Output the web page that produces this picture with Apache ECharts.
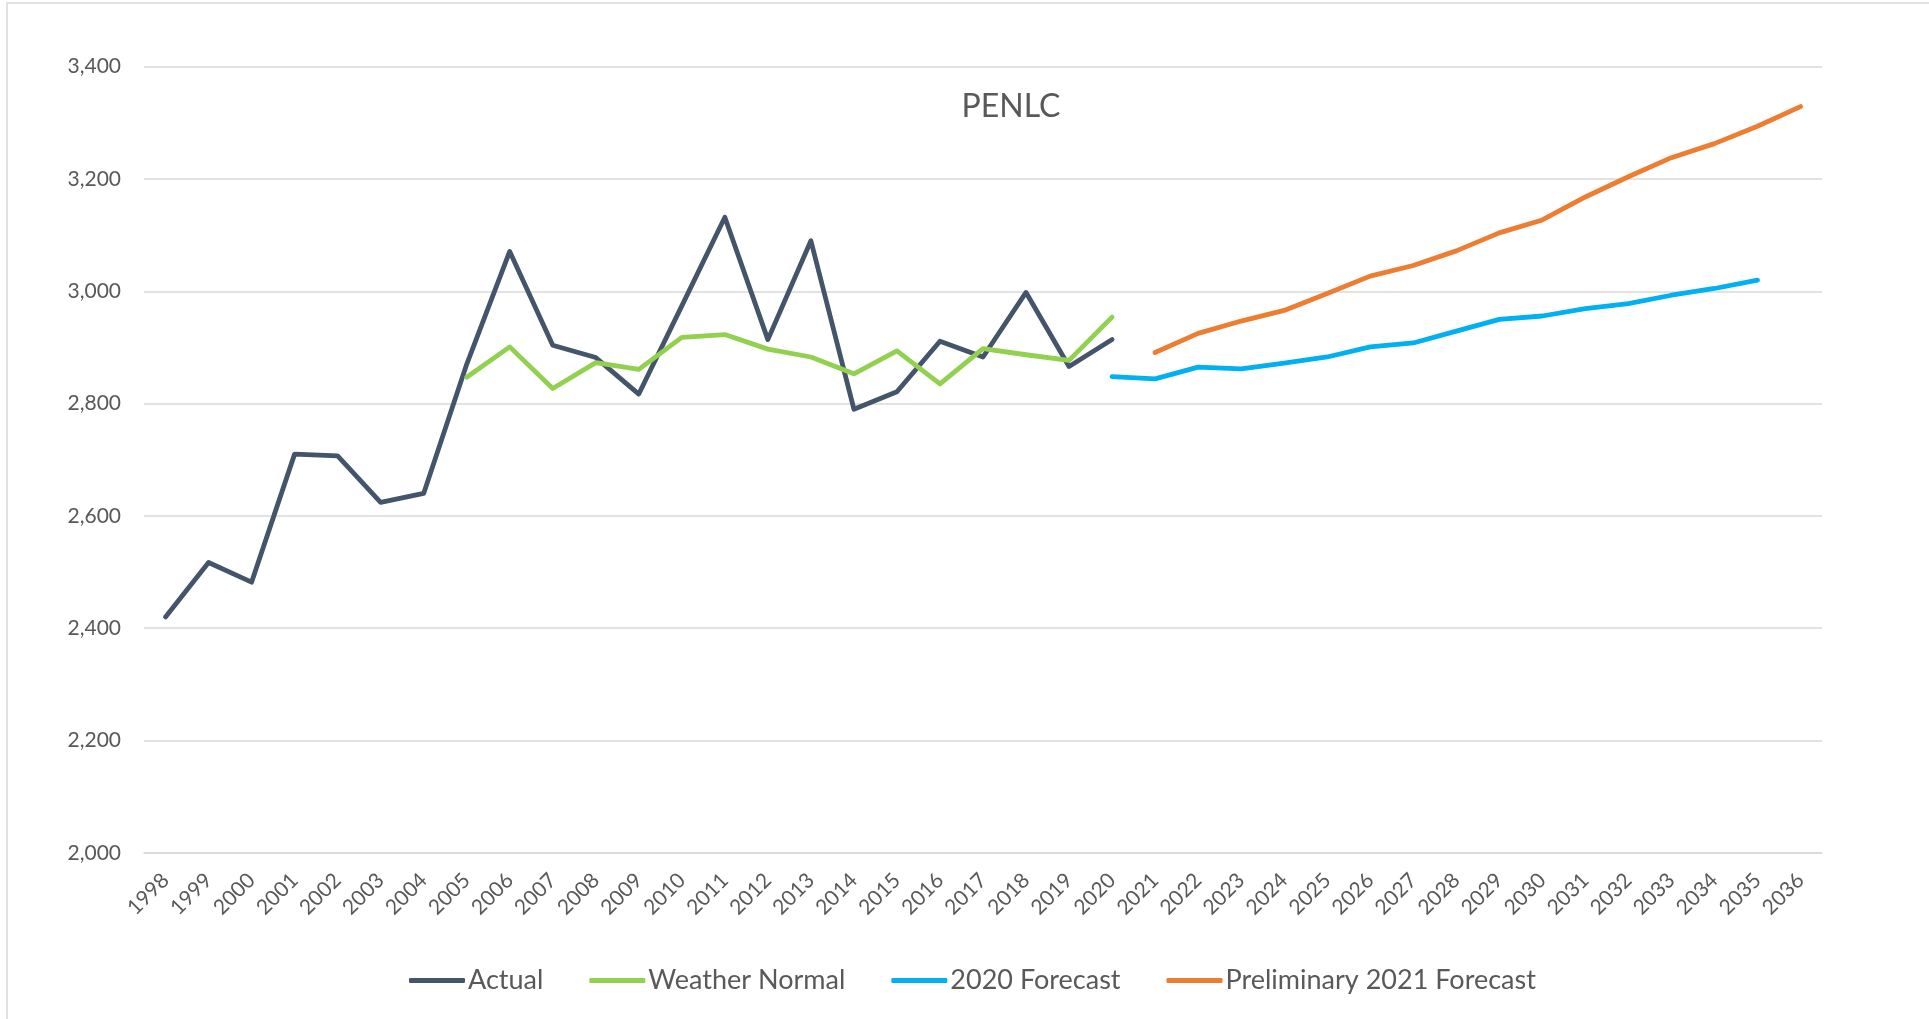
<!DOCTYPE html>
<html>
<head>
<meta charset="utf-8">
<script src="https://cdn.jsdelivr.net/npm/echarts@6/dist/echarts.min.js"></script>
<style>
html,body{margin:0;padding:0;background:#fff;}
#chart{width:1929px;height:1019px;}
</style>
</head>
<body>
<div id="chart"></div>
<script>
const years = ['1998','1999','2000','2001','2002','2003','2004','2005','2006','2007','2008','2009','2010','2011','2012','2013','2014','2015','2016','2017','2018','2019','2020','2021','2022','2023','2024','2025','2026','2027','2028','2029','2030','2031','2032','2033','2034','2035','2036'];

// 1998-2020
const actual = [2420,2517,2482,2710,2707,2624,2640,2870,3071,2904,2882,2817,2974,3132,2914,3090,2790,2821,2911,2883,2998,2866,2914];
// 2005-2020
const weatherNormal = [2847,2901,2827,2873,2861,2918,2923,2897,2883,2853,2894,2835,2898,2887,2877,2954];
// 2020-2035
const forecast2020 = [2848,2844,2865,2862,2872,2883,2901,2908,2929,2950,2956,2969,2978,2993,3005,3020];
// 2021-2036
const prelim2021 = [2891,2925,2947,2966,2996,3027,3046,3072,3104,3127,3168,3204,3238,3263,3294,3329];

const yTicks = [2000,2200,2400,2600,2800,3000,3200,3400];

function place(startYear, values){
  const out = years.map(() => null);
  const s = years.indexOf(startYear);
  values.forEach((v,i) => { out[s+i] = v; });
  return out;
}

const FONT = 'Lato';
const TXT = '#595959';

const chart = echarts.init(document.getElementById('chart'), null, {renderer:'canvas'});
const lineStyle = (c) => ({color:c, width:4.8, cap:'round', join:'round'});

chart.setOption({
  animation:false,
  backgroundColor:'#ffffff',
  title:{
    text:'PENLC',
    left:1006, top:86,
    textAlign:'center',
    textStyle:{fontFamily:FONT, fontSize:32, fontWeight:'normal', color:TXT}
  },
  graphic:[{
    type:'rect', silent:true,
    shape:{x:7, y:3, width:1940, height:1040},
    style:{fill:'none', stroke:'#D9D9D9', lineWidth:1.5}
  }],
  legend:{
    left:404, top:962,
    itemWidth:56, itemHeight:5, itemGap:46,
    icon:'roundRect',
    textStyle:{fontFamily:FONT, fontSize:27, color:TXT, padding:[0,0,0,-2]},
    data:['Actual','Weather Normal','2020 Forecast','Preliminary 2021 Forecast']
  },
  grid:{left:144, right:107, top:66.7, bottom:166.2, containLabel:false},
  xAxis:{
    type:'category',
    data:years,
    boundaryGap:true,
    axisLine:{show:true, lineStyle:{color:'#D9D9D9', width:1.5}},
    axisTick:{show:false},
    axisLabel:{interval:0, rotate:45, margin:24, fontFamily:FONT, fontSize:21, color:TXT}
  },
  yAxis:{
    type:'value',
    min:yTicks[0], max:yTicks[yTicks.length-1], interval:200,
    axisLine:{show:false}, axisTick:{show:false},
    splitLine:{lineStyle:{color:'#D9D9D9', width:1.5}},
    axisLabel:{margin:23, fontFamily:FONT, fontSize:21, color:TXT,
      formatter:(v)=>v.toLocaleString('en-US')}
  },
  series:[
    {name:'Actual', type:'line', data:place('1998',actual), showSymbol:false, symbol:'none',
      itemStyle:{color:'#44546A'}, lineStyle:lineStyle('#44546A'), connectNulls:false},
    {name:'Weather Normal', type:'line', data:place('2005',weatherNormal), showSymbol:false, symbol:'none',
      itemStyle:{color:'#92D050'}, lineStyle:lineStyle('#92D050'), connectNulls:false},
    {name:'2020 Forecast', type:'line', data:place('2020',forecast2020), showSymbol:false, symbol:'none',
      itemStyle:{color:'#00B0F0'}, lineStyle:lineStyle('#00B0F0'), connectNulls:false},
    {name:'Preliminary 2021 Forecast', type:'line', data:place('2021',prelim2021), showSymbol:false, symbol:'none',
      itemStyle:{color:'#ED7D31'}, lineStyle:lineStyle('#ED7D31'), connectNulls:false}
  ]
});
</script>
</body>
</html>
